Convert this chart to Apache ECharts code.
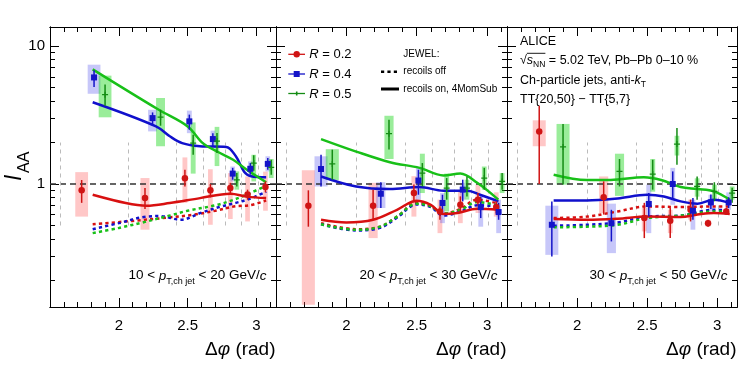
<!DOCTYPE html>
<html>
<head>
<meta charset="utf-8">
<script src="https://cdn.jsdelivr.net/npm/echarts@6/dist/echarts.min.js"></script>
<style>
html, body { margin: 0; padding: 0; background: #fff; }
#chart { width: 747px; height: 375px; }
</style>
</head>
<body>
<div id="chart"></div>
<script>
// bin edges in delta phi (rad), grey dashed guides
const binEdges = [1.571, 2.07, 2.42, 2.61, 2.77, 2.89, 3.01]
// point positions per jet radius
const xR02 = [1.73, 2.19, 2.48, 2.665, 2.81, 2.935, 3.065]
const xR04 = [1.82, 2.245, 2.512, 2.683, 2.827, 2.955, 3.082]
const xR05 = [1.90, 2.303, 2.54, 2.713, 2.857, 2.98, 3.107]

// ticks
const xMajor = [2, 2.5, 3]
const xMinor = [1.6, 1.7, 1.8, 1.9, 2.1, 2.2, 2.3, 2.4, 2.6, 2.7, 2.8, 2.9, 3.1]
const yMajor = [1, 10]
const yMinor = [0.2, 0.3, 0.4, 0.5, 0.6, 0.7, 0.8, 0.9, 2, 3, 4, 5, 6, 7, 8, 9]

// 10 < pT,ch jet < 20
const iaa10R02 = [0.90, 0.79, 1.10, 0.90, 0.935, 0.84, 0.95]
const stat10R02 = [[0.73, 1.07], [0.66, 0.935], [0.96, 1.27], [0.80, 1.0], [0.86, 1.02], [0.77, 0.91], [0.87, 1.045]]
const sys10R02 = [[0.58, 1.22], [0.466, 1.105], [0.73, 1.56], [0.506, 1.28], [0.557, 1.20], [0.535, 1.135], [0.64, 1.23]]
const iaa10R04 = [5.94, 3.01, 2.85, 2.12, 1.19, 1.29, 1.40]
const stat10R04 = [[5.06, 6.7], [2.65, 3.31], [2.48, 3.19], [1.88, 2.34], [1.075, 1.31], [1.17, 1.42], [1.27, 1.545]]
const sys10R04 = [[4.52, 7.35], [2.41, 3.46], [2.34, 3.41], [1.83, 2.44], [1.045, 1.34], [1.135, 1.46], [1.235, 1.59]]
const iaa10R05 = [4.45, 3.06, 1.98, 2.05, 1.07, 1.42, 1.32]
const stat10R05 = [[3.70, 5.27], [2.65, 3.46], [1.63, 2.28], [1.68, 2.35], [0.96, 1.20], [1.25, 1.62], [1.17, 1.50]]
const sys10R05 = [[3.05, 6.12], [1.88, 4.21], [1.19, 2.80], [1.35, 2.60], [0.91, 1.235], [1.045, 1.63], [1.105, 1.52]]

// 20 < pT,ch jet < 30
const iaa20R02 = [0.696, 0.696, 0.86, 0.632, 0.707, 0.77, 0.68]
const stat20R02 = [[0.49, 0.90], [0.55, 0.91], [0.735, 0.99], [0.55, 0.69], [0.616, 0.813], [0.69, 0.86], [0.61, 0.75]]
const sys20R02 = [[0.133, 1.26], [0.405, 1.02], [0.58, 1.14], [0.44, 0.77], [0.52, 0.88], [0.616, 0.99], [0.58, 0.87]]
const iaa20R04 = [1.285, 0.85, 1.06, 0.728, 0.91, 0.68, 0.626]
const stat20R04 = [[0.96, 1.63], [0.67, 1.03], [0.836, 1.27], [0.616, 0.836], [0.748, 1.075], [0.566, 0.81], [0.55, 0.73]]
const sys20R04 = [[0.96, 1.59], [0.67, 1.03], [0.77, 1.31], [0.52, 0.86], [0.77, 1.02], [0.49, 0.81], [0.44, 0.77]]
const iaa20R05 = [1.40, 2.32, 1.20, 0.935, 0.935, 1.105, 1.045]
const stat20R05 = [[1.075, 1.776], [1.78, 2.93], [0.96, 1.42], [0.77, 1.105], [0.813, 1.135], [0.91, 1.31], [0.909, 1.2]]
const sys20R05 = [[1.07, 1.79], [1.52, 3.13], [0.86, 1.66], [0.632, 1.19], [0.77, 1.075], [0.91, 1.34], [0.86, 1.2]]

// 30 < pT,ch jet < 50
const iaa30R02 = [2.41, 0.80, 0.566, 0.541, 0.65, 0.52, 0.632]
const stat30R02 = [[1.0, 3.70], [0.60, 1.045], [0.405, 0.73], [0.405, 0.67], [0.535, 0.77], [0.49, 0.55], [0.60, 0.67]]
const sys30R02 = [[1.88, 2.90], [0.616, 1.135], [0.453, 0.67], [0.44, 0.65], [0.55, 0.77], [0.49, 0.55], [0.61, 0.66]]
const iaa30R04 = [0.506, 0.52, 0.716, 1.0, 0.64, 0.735, 0.735]
const stat30R04 = [[0.298, 0.747], [0.383, 0.65], [0.58, 0.86], [0.77, 1.235], [0.55, 0.79], [0.66, 0.84], [0.67, 0.80]]
const sys30R04 = [[0.306, 0.696], [0.315, 0.72], [0.44, 0.99], [0.707, 1.31], [0.466, 0.77], [0.632, 0.836], [0.65, 0.87]]
const iaa30R05 = [1.86, 1.235, 1.18, 1.95, 0.96, 0.885, 0.86]
const stat30R05 = [[0.99, 2.73], [0.96, 1.52], [0.91, 1.50], [1.38, 2.55], [0.77, 1.135], [0.75, 1.03], [0.73, 0.94]]
const sys30R05 = [[0.99, 2.73], [0.82, 1.66], [0.88, 1.52], [1.61, 2.24], [0.81, 1.10], [0.77, 0.99], [0.77, 0.96]]

// JEWEL recoils on, 4MomSub (solid)
const on10R02 = [[1.81, 0.836], [2.05, 0.728], [2.2, 0.696], [2.37, 0.728], [2.59, 0.79], [2.81, 0.85], [2.93, 0.81], [3.07, 0.79]]
const on10R04 = [[1.81, 3.92], [2.27, 2.62], [2.37, 2.22], [2.46, 1.98], [2.59, 1.88], [2.78, 1.86], [2.85, 1.59], [2.91, 1.23], [2.96, 1.14], [3.07, 1.12]]
const on10R05 = [[1.81, 6.8], [2.29, 3.46], [2.5, 2.62], [2.61, 1.98], [2.71, 1.73], [2.83, 1.50], [2.93, 1.27], [3.07, 1.03]]
const on20R02 = [[1.82, 0.55], [2.0, 0.526], [2.19, 0.55], [2.36, 0.65], [2.5, 0.757], [2.6, 0.707], [2.69, 0.605], [2.79, 0.616], [2.93, 0.662], [3.08, 0.65]]
const on20R04 = [[1.82, 1.135], [2.07, 0.96], [2.31, 0.92], [2.52, 0.95], [2.69, 0.894], [2.86, 0.894], [2.95, 0.836], [3.08, 0.748]]
const on20R05 = [[1.82, 2.12], [2.07, 1.72], [2.31, 1.44], [2.52, 1.31], [2.69, 1.155], [2.81, 1.19], [2.93, 1.02], [3.08, 0.77]]
const on30R02 = [[1.833, 0.557], [2.07, 0.55], [2.29, 0.56], [2.5, 0.58], [2.74, 0.576], [2.86, 0.60], [2.976, 0.616], [3.09, 0.605]]
const on30R04 = [[1.833, 0.76], [2.07, 0.76], [2.29, 0.786], [2.5, 0.836], [2.62, 0.813], [2.74, 0.748], [2.86, 0.72], [2.976, 0.77], [3.09, 0.728]]
const on30R05 = [[1.833, 1.168], [2.07, 1.07], [2.24, 1.07], [2.476, 1.12], [2.6, 1.07], [2.74, 0.95], [2.86, 0.92], [2.976, 0.885], [3.09, 0.77]]

// JEWEL recoils off (dotted)
const off10R02 = [[1.81, 0.51], [2.1, 0.54], [2.35, 0.57], [2.55, 0.60], [2.7, 0.64], [2.85, 0.69], [2.95, 0.70], [3.07, 0.76]]
const off10R04 = [[1.81, 0.47], [2.0, 0.52], [2.2, 0.58], [2.3, 0.585], [2.45, 0.55], [2.6, 0.62], [2.75, 0.69], [2.85, 0.73], [2.95, 0.78], [3.07, 0.88]]
const off10R05 = [[1.81, 0.44], [2.0, 0.48], [2.17, 0.525], [2.37, 0.59], [2.5, 0.64], [2.7, 0.70], [2.82, 0.76], [2.93, 0.84], [3.07, 0.97]]
const off20R02 = [[1.82, 0.52], [2.07, 0.47], [2.24, 0.49], [2.36, 0.58], [2.5, 0.73], [2.6, 0.69], [2.69, 0.61], [2.81, 0.66], [2.93, 0.77], [3.08, 0.72]]
const off20R04 = [[1.82, 0.51], [2.07, 0.46], [2.24, 0.48], [2.36, 0.57], [2.5, 0.71], [2.6, 0.68], [2.69, 0.59], [2.81, 0.63], [2.93, 0.70], [3.08, 0.69]]
const off20R05 = [[1.82, 0.51], [2.07, 0.465], [2.24, 0.49], [2.36, 0.58], [2.5, 0.72], [2.6, 0.69], [2.69, 0.61], [2.81, 0.65], [2.93, 0.74], [3.08, 0.70]]
const off30R02 = [[1.833, 0.566], [2.07, 0.58], [2.29, 0.632], [2.5, 0.688], [2.74, 0.68], [2.976, 0.688], [3.09, 0.688]]
const off30R04 = [[1.833, 0.498], [2.07, 0.506], [2.29, 0.526], [2.5, 0.58], [2.74, 0.59], [2.976, 0.65], [3.09, 0.643]]
const off30R05 = [[1.833, 0.485], [2.07, 0.49], [2.29, 0.506], [2.5, 0.566], [2.74, 0.59], [2.976, 0.632], [3.09, 0.632]]

const ptRanges = [['10', '20'], ['20', '30'], ['30', '50']]
const radii = ['0.2', '0.4', '0.5']

const panels = [
    { pts: [[xR02, iaa10R02, stat10R02, sys10R02], [xR04, iaa10R04, stat10R04, sys10R04], [xR05, iaa10R05, stat10R05, sys10R05]],
      on: [on10R02, on10R04, on10R05], off: [off10R02, off10R04, off10R05] },
    { pts: [[xR02, iaa20R02, stat20R02, sys20R02], [xR04, iaa20R04, stat20R04, sys20R04], [xR05, iaa20R05, stat20R05, sys20R05]],
      on: [on20R02, on20R04, on20R05], off: [off20R02, off20R04, off20R05] },
    { pts: [[xR02, iaa30R02, stat30R02, sys30R02], [xR04, iaa30R04, stat30R04, sys30R04], [xR05, iaa30R05, stat30R05, sys30R05]],
      on: [on30R02, on30R04, on30R05], off: [off30R02, off30R04, off30R05] },
]

// layout / styles
const FONT = '"Liberation Sans", Arial, sans-serif'
const grids = [
    { left: 50, top: 27, width: 226, height: 280 },
    { left: 276, top: 27, width: 231, height: 280 },
    { left: 507, top: 27, width: 230, height: 280 },
]
const ptColor = ['#d01414', '#1414c8', '#148c14']
const lineColor = ['#d81010', '#1010cc', '#18c018']
const boxColor = ['rgba(255,80,80,0.32)', 'rgba(70,70,235,0.30)', 'rgba(30,215,30,0.45)']
const plusPath = 'path://M1.6,0H2.4V1.6H4V2.4H2.4V4H1.6V2.4H0V1.6H1.6Z'
const symbols = ['circle', 'rect', plusPath]
const symSize = [6.5, 6, 6]
const dotted = [3.2, 3.2]

// text helper, pieces: [text, size, italic, dy]
const ctx = document.createElement('canvas').getContext('2d')
const fontStr = (size, italic) => (italic ? 'italic ' : '') + size + 'px ' + FONT
function measure(t, size, italic) {
    ctx.font = fontStr(size, italic)
    return ctx.measureText(t).width
}
function textRun(x, baseline, pieces, align) {
    const ws = pieces.map(p => measure(p[0], p[1], p[2]))
    let cx = align === 'right' ? x - ws.reduce((a, b) => a + b, 0) : x
    return pieces.map((p, i) => {
        const el = {
            type: 'text', x: cx, y: baseline + (p[3] || 0) - 0.35 * p[1], z: 100,
            style: { text: p[0], font: fontStr(p[1], p[2]), fill: '#000', align: 'left', verticalAlign: 'middle' },
        }
        cx += ws[i]
        return el
    })
}

function boxHalf(x) {
    for (let i = 0; i < binEdges.length; i++) {
        const lo = binEdges[i]
        const hi = i + 1 < binEdges.length ? binEdges[i + 1] : Math.PI
        if (x >= lo && x < hi) return Math.max(0.093 * (hi - lo), 0.017)
    }
    return 0.017
}

function xAx(g, pos, ticks, len, labels) {
    return {
        type: 'value', gridIndex: g, position: pos, min: 1.5, max: Math.PI,
        axisLine: { show: true, onZero: false, lineStyle: { color: '#000', width: 1 } },
        axisTick: { show: true, inside: true, length: len, customValues: ticks, lineStyle: { color: '#000', width: 1 } },
        axisLabel: { show: labels, customValues: xMajor, margin: 11, fontSize: 15, fontFamily: FONT, color: '#000' },
        splitLine: { show: false },
    }
}
function yAx(g, pos, ticks, len, labels) {
    return {
        type: 'log', logBase: 10, gridIndex: g, position: pos, min: 0.128, max: 13.8,
        axisLine: { show: true, onZero: false, lineStyle: { color: '#000', width: 1 } },
        axisTick: { show: true, inside: true, length: len, customValues: ticks, lineStyle: { color: '#000', width: 1 } },
        axisLabel: { show: labels, customValues: yMajor, margin: 5, fontSize: 15, fontFamily: FONT, color: '#000' },
        splitLine: { show: false },
    }
}

const xAxes = []
const yAxes = []
const series = []
const graphics = []

panels.forEach((pan, g) => {
    xAxes.push(xAx(g, 'bottom', xMajor, 9, true), xAx(g, 'bottom', xMinor, 5, false),
        xAx(g, 'top', xMajor, 9, false), xAx(g, 'top', xMinor, 5, false))
    yAxes.push(yAx(g, 'left', yMajor, 9, g === 0), yAx(g, 'left', yMinor, 5, false),
        yAx(g, 'right', yMajor, 9, false), yAx(g, 'right', yMinor, 5, false))
    const xi = 4 * g
    const yi = 4 * g

    const guides = [{ yAxis: 1, lineStyle: { color: '#333', type: [6, 4], width: 1.5 } }]
    binEdges.forEach(e => {
        const ls = { color: '#bbb', type: [4, 4], width: 1 }
        guides.push([{ coord: [e, 0.5], lineStyle: ls }, { coord: [e, 2], lineStyle: ls }])
    })

    pan.pts.forEach((p, k) => {
        const rows = p[0].map((x, i) => [x, p[1][i], p[2][i][0], p[2][i][1], p[3][i][0], p[3][i][1]])
        // systematic boxes
        series.push({
            type: 'custom', xAxisIndex: xi, yAxisIndex: yi, z: 1, silent: true,
            data: rows, encode: { x: 0, y: 1 },
            renderItem: (params, api) => {
                const x = api.value(0)
                const hw = boxHalf(x)
                const a = api.coord([x - hw, api.value(5)])
                const b = api.coord([x + hw, api.value(4)])
                return { type: 'rect', shape: { x: a[0], y: a[1], width: b[0] - a[0], height: b[1] - a[1] }, style: { fill: boxColor[k] } }
            },
            markLine: k === 0 ? { silent: true, symbol: 'none', label: { show: false }, z: 2, data: guides } : undefined,
        })
        // statistical error bars
        series.push({
            type: 'custom', xAxisIndex: xi, yAxisIndex: yi, z: 4, silent: true,
            data: rows, encode: { x: 0, y: 1 },
            renderItem: (params, api) => {
                const x = api.value(0)
                const a = api.coord([x, api.value(3)])
                const b = api.coord([x, api.value(2)])
                return { type: 'line', shape: { x1: a[0], y1: a[1], x2: b[0], y2: b[1] }, style: { stroke: ptColor[k], lineWidth: 1.5 } }
            },
        })
    })

    for (let k = 0; k < 3; k++) {
        series.push({
            type: 'line', xAxisIndex: xi, yAxisIndex: yi, z: 3, data: pan.off[k], smooth: 0.35,
            showSymbol: false, silent: true,
            lineStyle: { color: lineColor[k], width: 2.5, type: dotted, cap: 'butt' },
        })
    }
    for (let k = 0; k < 3; k++) {
        series.push({
            type: 'line', xAxisIndex: xi, yAxisIndex: yi, z: 3, data: pan.on[k], smooth: 0.35,
            showSymbol: false, silent: true,
            lineStyle: { color: lineColor[k], width: 2.5 },
        })
    }
    pan.pts.forEach((p, k) => {
        series.push({
            type: 'scatter', xAxisIndex: xi, yAxisIndex: yi, z: 5, silent: true,
            symbol: symbols[k], symbolSize: symSize[k],
            itemStyle: { color: ptColor[k], opacity: 1 },
            data: p[0].map((x, i) => [x, p[1][i]]),
        })
    })

    // panel annotations
    const gr = grids[g]
    const right = gr.left + gr.width
    graphics.push(...textRun(right - 9.5, 280.5, [
        [ptRanges[g][0] + ' < ', 13.5], ['p', 13.5, true], ['T,ch jet', 9, false, 4],
        [' < ' + ptRanges[g][1] + ' GeV/', 13.5], ['c', 13.5, true],
    ], 'right'))
    graphics.push(...textRun(right - 0.5, 356, [['Δ', 19], ['φ', 19, true], [' (rad)', 19]], 'right'))
})

// y title, rotated
graphics.push({ type: 'text', x: 15, y: 181, rotation: Math.PI / 2, z: 100,
    style: { text: 'I', font: fontStr(23, true), fill: '#000', align: 'left', verticalAlign: 'middle' } })
graphics.push({ type: 'text', x: 24.5, y: 173, rotation: Math.PI / 2, z: 100,
    style: { text: 'AA', font: fontStr(16, false), fill: '#000', align: 'left', verticalAlign: 'middle' } })

// legend for data
const legRows = [54.3, 74, 93.5]
legRows.forEach((yc, k) => {
    graphics.push({ type: 'line', z: 100, shape: { x1: 288.3, y1: yc, x2: 305, y2: yc }, style: { stroke: ptColor[k], lineWidth: 1.3 } })
    graphics.push(...textRun(309.3, yc + 5, [['R', 13, true], [' = ' + radii[k], 13]]))
})
graphics.push({ type: 'circle', z: 101, shape: { cx: 296.7, cy: legRows[0], r: 3.2 }, style: { fill: ptColor[0] } })
graphics.push({ type: 'rect', z: 101, shape: { x: 293.7, y: legRows[1] - 3, width: 6, height: 6 }, style: { fill: ptColor[1] } })
graphics.push({ type: 'rect', z: 101, shape: { x: 295.9, y: legRows[2] - 2, width: 1.6, height: 4 }, style: { fill: ptColor[2] } })

// legend for JEWEL
graphics.push(...textRun(403.3, 57.7, [['JEWEL:', 10]]))
graphics.push({ type: 'line', z: 100, shape: { x1: 381, y1: 71.7, x2: 399, y2: 71.7 }, style: { stroke: '#000', lineWidth: 2.5, lineDash: dotted } })
graphics.push(...textRun(403.3, 75, [['recoils off', 10]]))
graphics.push({ type: 'line', z: 100, shape: { x1: 381, y1: 89, x2: 399, y2: 89 }, style: { stroke: '#000', lineWidth: 3 } })
graphics.push(...textRun(403.3, 92.7, [['recoils on, 4MomSub', 10]]))

// ALICE label block
graphics.push(...textRun(520, 46, [['ALICE', 12.5]]))
const sq = textRun(520, 64.5, [['√', 12.5], ['s', 12.5, true], ['NN', 8.5, false, 3], [' = 5.02 TeV, Pb–Pb 0–10 %', 12.5]])
graphics.push(...sq)
graphics.push({ type: 'line', z: 100, shape: { x1: sq[1].x, y1: 53.3, x2: sq[3].x, y2: 53.3 }, style: { stroke: '#000', lineWidth: 0.9 } })
graphics.push(...textRun(520, 85, [['Ch-particle jets, anti-', 12.5], ['k', 12.5, true], ['T', 8.5, false, 3]]))
graphics.push(...textRun(520, 103.5, [['TT{20,50} − TT{5,7}', 12.5]]))

const chart = echarts.init(document.getElementById('chart'), null, { renderer: 'canvas' })
chart.setOption({
    animation: false,
    backgroundColor: '#fff',
    grid: grids.map(gr => Object.assign({ outerBoundsMode: 'none' }, gr)),
    xAxis: xAxes,
    yAxis: yAxes,
    series: series,
    graphic: graphics,
})
</script>
</body>
</html>
